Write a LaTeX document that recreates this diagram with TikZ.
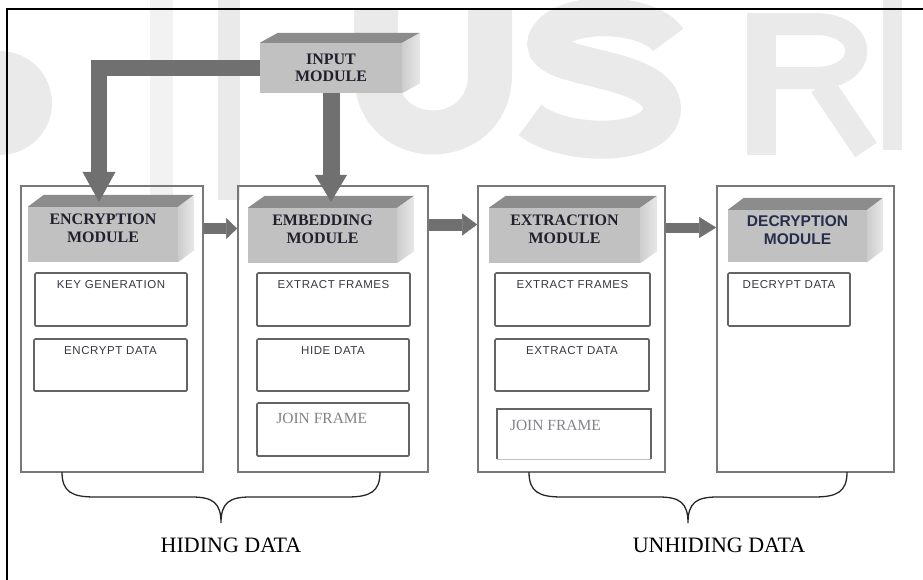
\documentclass[tikz,border=0pt]{standalone}
\usepackage{fontspec}
\setmainfont{Liberation Serif}
\newfontfamily\subf[LetterSpace=5]{Liberation Sans}
\newfontfamily\sansbf{Liberation Sans}
\usetikzlibrary{arrows.meta,calc}
\definecolor{wmc}{RGB}{234,234,234}
\definecolor{wmlc}{RGB}{242,242,242}
\definecolor{cubetopc}{RGB}{140,140,140}
\definecolor{cubefrontc}{RGB}{193,193,193}
\definecolor{cubesidel}{RGB}{205,205,205}
\definecolor{cubesider}{RGB}{232,232,232}
\definecolor{arrowc}{RGB}{112,112,112}
\definecolor{panelline}{RGB}{120,120,120}
\definecolor{subline}{RGB}{100,100,100}
\definecolor{cubetext}{RGB}{32,32,46}
\definecolor{dectext}{RGB}{38,46,76}
\definecolor{subtextc}{RGB}{55,55,68}
\definecolor{jointextc}{RGB}{130,130,136}
\newcommand\cubefaces[3]{%
  \fill[cubetopc] (#1.north west) -- ++(#2,-#3) -- ($(#1.north east)+(#2,-#3)$) -- (#1.north east) -- cycle;
  \shade[left color=cubesidel,right color=cubesider] (#1.north east) -- ++(#2,-#3) -- ($(#1.south east)+(#2,-#3)$) -- (#1.south east) -- cycle;}
\begin{document}
\begin{tikzpicture}[x=1pt,y=-1pt,
  panel/.style={draw=panelline,line width=1.7pt,inner sep=0pt},
  subbox/.style={draw=subline,line width=1.7pt,rounded corners=1.2pt,fill=white,inner sep=0pt},
  frontface/.style={fill=cubefrontc,draw=none,inner sep=0pt},
  cubelab/.style={text=cubetext,align=center,font=\bfseries\fontsize{16}{17.5}\selectfont,inner sep=0pt},
  sublab/.style={text=subtextc,font=\subf\fontsize{11.5}{13}\selectfont,inner sep=0pt,anchor=north},
  joinlab/.style={text=jointextc,font=\fontsize{15.5}{17}\selectfont,inner sep=0pt,anchor=west},
  blockarrow/.style={draw=arrowc,line join=miter},
  bracestyle/.style={draw=black!85,line width=1.3pt},
  grouplab/.style={font=\fontsize{22}{24}\selectfont,inner sep=0pt}]
\useasboundingbox (0,0) rectangle (923,579);
% watermark
\fill[wmc] (0,103) circle (52);
\fill[wmlc] (150,-5) rectangle (173,213);
\fill[wmc] (218,-5) rectangle (240,200);
\draw[wmc,line width=44pt] (376,10) -- (376,74) .. controls (376,152) and (490,152) .. (490,74) -- (490,10);
\draw[wmc,line width=38pt] (668,40) .. controls (650,12) and (565,8) .. (548,38) .. controls (530,72) and (660,62) .. (662,108) .. controls (662,148) and (565,148) .. (530,120);
\fill[wmc] (747,13) rectangle (776,155);
\draw[wmc,line width=22pt] (760,24) -- (815,24) .. controls (870,24) and (870,78) .. (815,78) -- (760,78);
\draw[wmc,line width=26pt] (822,85) -- (866,150);
\fill[wmc] (883,-5) rectangle (902,150);
% frame
\draw[line width=2pt] (930,9) -- (7,9) -- (7,590);
% panels
\node[panel,minimum width=182pt,minimum height=286pt] (p1) at (112,329) {};
\node[panel,minimum width=190pt,minimum height=286pt] (p2) at (333,329) {};
\node[panel,minimum width=187pt,minimum height=286pt] (p3) at (571.5,329) {};
\node[panel,minimum width=177pt,minimum height=286pt] (p4) at (805.5,329) {};
% sub boxes
\node[subbox,minimum width=152pt,minimum height=53pt] (s11) at (111,299.5) {};
\node[subbox,minimum width=153pt,minimum height=52pt] (s12) at (110.5,365) {};
\node[subbox,minimum width=153pt,minimum height=53pt] (s21) at (333.5,299.5) {};
\node[subbox,minimum width=152pt,minimum height=52pt] (s22) at (333,365) {};
\node[subbox,minimum width=152pt,minimum height=53pt] (s23) at (333,429.5) {};
\node[subbox,minimum width=155pt,minimum height=53pt] (s31) at (572.5,299.5) {};
\node[subbox,minimum width=154pt,minimum height=52pt] (s32) at (572,365) {};
\node[inner sep=0pt,minimum width=154pt,minimum height=50pt] (s33) at (574,434) {};
\draw[subline,line width=1.7pt] (s33.south west) -- (s33.north west) -- (s33.north east) -- (s33.south east);
\draw[black!25,line width=1.2pt] (s33.south west) -- (s33.south east);
\node[subbox,minimum width=122pt,minimum height=53pt] (s41) at (789,299.5) {};
\node[sublab] (t11) at ([yshift=-8pt]s11.north) {KEY GENERATION};
\node[sublab] (t12) at ([yshift=-8pt]s12.north) {ENCRYPT DATA};
\node[sublab] (t21) at ([yshift=-8pt]s21.north) {EXTRACT FRAMES};
\node[sublab] (t22) at ([yshift=-8pt]s22.north) {HIDE DATA};
\node[joinlab] (t23) at ([xshift=20pt,yshift=-16pt]s23.north west) {JOIN FRAME};
\node[sublab] (t31) at ([yshift=-8pt]s31.north) {EXTRACT FRAMES};
\node[sublab] (t32) at ([yshift=-8pt]s32.north) {EXTRACT DATA};
\node[joinlab] (t33) at ([xshift=13pt,yshift=-17pt]s33.north west) {JOIN FRAME};
\node[sublab] (t41) at ([yshift=-8pt]s41.north) {DECRYPT DATA};
% module cubes
\node[frontface,minimum width=150pt,minimum height=55pt] (encF) at (103,234.5) {};
\cubefaces{encF}{16}{12}
\node[cubelab] (encT) at ($(encF.center)+(0,-6)$) {ENCRYPTION\\MODULE};
\node[frontface,minimum width=149pt,minimum height=55pt] (embF) at (322.5,235.5) {};
\cubefaces{embF}{17}{12}
\node[cubelab] (embT) at ($(embF.center)+(0,-6)$) {EMBEDDING\\MODULE};
\node[frontface,minimum width=151pt,minimum height=55pt] (extF) at (564.5,235.5) {};
\cubefaces{extF}{17}{12}
\node[cubelab] (extT) at ($(extF.center)+(0,-6)$) {EXTRACTION\\MODULE};
\node[frontface,minimum width=139pt,minimum height=52pt] (decF) at (797.5,236) {};
\cubefaces{decF}{16}{12}
\node[cubelab,text=dectext,font=\sansbf\bfseries\fontsize{15.5}{17.5}\selectfont] (decT) at ($(decF.center)+(0,-6)$) {DECRYPTION\\MODULE};
% input cube front (faces drawn after the arrows)
\node[frontface,fill=none,minimum width=142pt,minimum height=50pt] (inpF) at (331,68) {};
% arrows
\draw[blockarrow,line width=11pt,-{Triangle[width=21pt,length=11pt,line width=0.4pt]}] (p1.east |- encT) -- (p2.west |- encT);
\draw[blockarrow,line width=12pt,-{Triangle[width=22pt,length=15pt,line width=0.4pt]}] ($(p2.east |- embT)+(0,-5)$) -- ($(p3.west |- embT)+(0,-5)$);
\draw[blockarrow,line width=10pt,-{Triangle[width=21pt,length=17pt,line width=0.4pt]}] ($(p3.east |- extT)+(0,-2)$) -- ($(p4.west |- extT)+(0,-2)$);
\draw[blockarrow,line width=17pt,-{Triangle[width=32pt,length=27pt,line width=0.4pt]}] (inpF.south) -- ($(inpF.south |- embF.north)+(0,-6)$);
\draw[blockarrow,line width=16pt,-{Triangle[width=33pt,length=30pt,line width=0.4pt]}] ([xshift=4pt]inpF.west) -| ($(encF.north)+(-4,-5)$);
% input cube
\fill[cubefrontc] (inpF.north west) rectangle (inpF.south east);
\cubefaces{inpF}{18}{10}
\node[cubelab] (inpT) at (inpF.center) {INPUT\\MODULE};
% braces
\draw[bracestyle] (62,472) .. controls (62,492) and (72,497) .. (95,497) -- (192,497) .. controls (213,497) and (221,503) .. (221,523) .. controls (221,503) and (229,497) .. (250,497) -- (347,497) .. controls (370,497) and (380,492) .. (380,472);
\draw[bracestyle] (529,472) .. controls (529,492) and (539,497) .. (562,497) -- (659,497) .. controls (680,497) and (688,503) .. (688,523) .. controls (688,503) and (696,497) .. (717,497) -- (814,497) .. controls (837,497) and (847,492) .. (847,472);
\node[grouplab] (hid) at (231,545) {HIDING DATA};
\node[grouplab] (unhid) at (719,545) {UNHIDING DATA};
\end{tikzpicture}
\end{document}
